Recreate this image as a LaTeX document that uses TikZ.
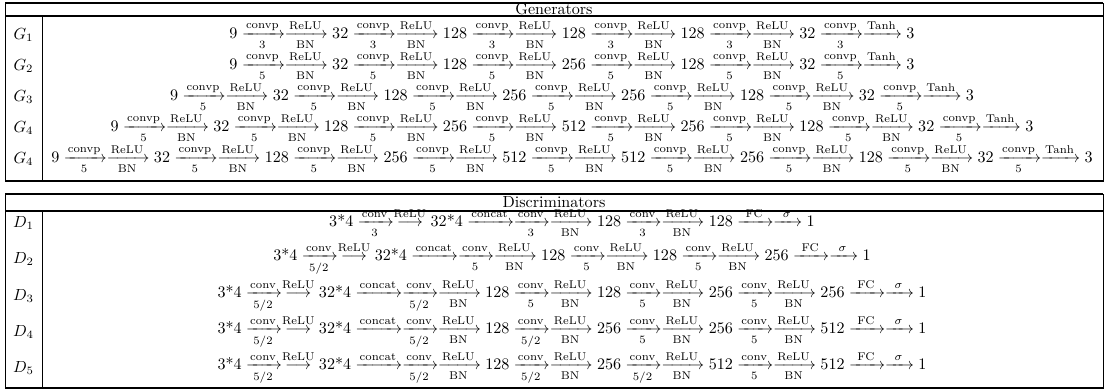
\documentclass[tikz,border=0pt]{standalone}
\usepackage{amsmath,amssymb}
\usepackage{tikz}
\usetikzlibrary{positioning}

% arrow pieces of the layer chains
\newcommand{\cvp}[1]{\xrightarrow[#1]{\text{convp}}}
\newcommand{\rbn}{\xrightarrow[\text{BN}]{\text{ReLU}}}
\newcommand{\tnh}{\xrightarrow{\text{Tanh}}}
\newcommand{\cvd}[1]{\xrightarrow[#1]{\text{conv}}}
\newcommand{\rlu}{\stackrel{\text{ReLU}}{\longrightarrow}}
\newcommand{\cct}{\xrightarrow{\text{concat}}}
\newcommand{\fcs}{\xrightarrow{\text{~FC~}}\xrightarrow{~\sigma~}}

\begin{document}
\begin{tikzpicture}[x=0.02262cm, y=-0.02262cm,
  rowlabel/.style={inner sep=0pt, scale=1.035},
  chain/.style={inner sep=0pt, scale=1.035},
  headtext/.style={inner sep=0pt, scale=1.035},
  frame/.style={line width=0.5pt},
  rule/.style={line width=1pt}
]
\useasboundingbox (0,0) rectangle (1105,389);

% Generators table
\draw[frame] (5,3) rectangle (1103,181);
\draw[rule] (5,3) -- (1103,3);
\draw[rule] (5,16) -- (1103,16);
\draw[rule] (5,181) -- (1103,181);
\draw[frame] (42,16) -- (42,181);
\node[headtext] (genhead) at (554,9.5) {Generators};

\node[rowlabel] (g1lab) at (23.5,35) {$G_1$};
\node[chain] (g1) at (572,35) {$9 \cvp{3}\rbn 32 \cvp{3}\rbn 128 \cvp{3}\rbn 128 \cvp{3}\rbn 128 \cvp{3}\rbn 32 \cvp{3}\tnh 3$};

\node[rowlabel] (g2lab) at (23.5,66) {$G_2$};
\node[chain] (g2) at (572,66) {$9 \cvp{5}\rbn 32 \cvp{5}\rbn 128 \cvp{5}\rbn 256 \cvp{5}\rbn 128 \cvp{5}\rbn 32 \cvp{5}\tnh 3$};

\node[rowlabel] (g3lab) at (23.5,97) {$G_3$};
\node[chain] (g3) at (572,97) {$9 \cvp{5}\rbn 32 \cvp{5}\rbn 128 \cvp{5}\rbn 256 \cvp{5}\rbn 256 \cvp{5}\rbn 128 \cvp{5}\rbn 32 \cvp{5}\tnh 3$};

\node[rowlabel] (g4lab) at (23.5,128) {$G_4$};
\node[chain] (g4) at (572,128) {$9 \cvp{5}\rbn 32 \cvp{5}\rbn 128 \cvp{5}\rbn 256 \cvp{5}\rbn 512 \cvp{5}\rbn 256 \cvp{5}\rbn 128 \cvp{5}\rbn 32 \cvp{5}\tnh 3$};

\node[rowlabel] (g5lab) at (23.5,159) {$G_4$};
\node[chain] (g5) at (572,159) {$9 \cvp{5}\rbn 32 \cvp{5}\rbn 128 \cvp{5}\rbn 256 \cvp{5}\rbn 512 \cvp{5}\rbn 512 \cvp{5}\rbn 256 \cvp{5}\rbn 128 \cvp{5}\rbn 32 \cvp{5}\tnh 3$};

% Discriminators table
\draw[frame] (5,194) rectangle (1103,388);
\draw[rule] (5,194) -- (1103,194);
\draw[rule] (5,211) -- (1103,211);
\draw[rule] (5,388) -- (1103,388);
\draw[frame] (42,211) -- (42,388);
\node[headtext] (dishead) at (554,202.5) {Discriminators};

\node[rowlabel] (d1lab) at (23.5,223) {$D_1$};
\node[chain] (d1) at (572,223) {$\text{3*4} \cvd{3}\rlu \text{32*4} \cct\cvd{3}\rbn 128 \cvd{3}\rbn 128 \fcs 1$};

\node[rowlabel] (d2lab) at (23.5,259) {$D_2$};
\node[chain] (d2) at (572,259) {$\text{3*4} \cvd{5/2}\rlu \text{32*4} \cct\cvd{5}\rbn 128 \cvd{5}\rbn 128 \cvd{5}\rbn 256 \fcs 1$};

\node[rowlabel] (d3lab) at (23.5,296) {$D_3$};
\node[chain] (d3) at (572,296) {$\text{3*4} \cvd{5/2}\rlu \text{32*4} \cct\cvd{5/2}\rbn 128 \cvd{5}\rbn 128 \cvd{5}\rbn 256 \cvd{5}\rbn 256 \fcs 1$};

\node[rowlabel] (d4lab) at (23.5,332) {$D_4$};
\node[chain] (d4) at (572,332) {$\text{3*4} \cvd{5/2}\rlu \text{32*4} \cct\cvd{5/2}\rbn 128 \cvd{5/2}\rbn 256 \cvd{5}\rbn 256 \cvd{5}\rbn 512 \fcs 1$};

\node[rowlabel] (d5lab) at (23.5,368) {$D_5$};
\node[chain] (d5) at (572,368) {$\text{3*4} \cvd{5/2}\rlu \text{32*4} \cct\cvd{5/2}\rbn 128 \cvd{5/2}\rbn 256 \cvd{5/2}\rbn 512 \cvd{5}\rbn 512 \fcs 1$};

\end{tikzpicture}
\end{document}
